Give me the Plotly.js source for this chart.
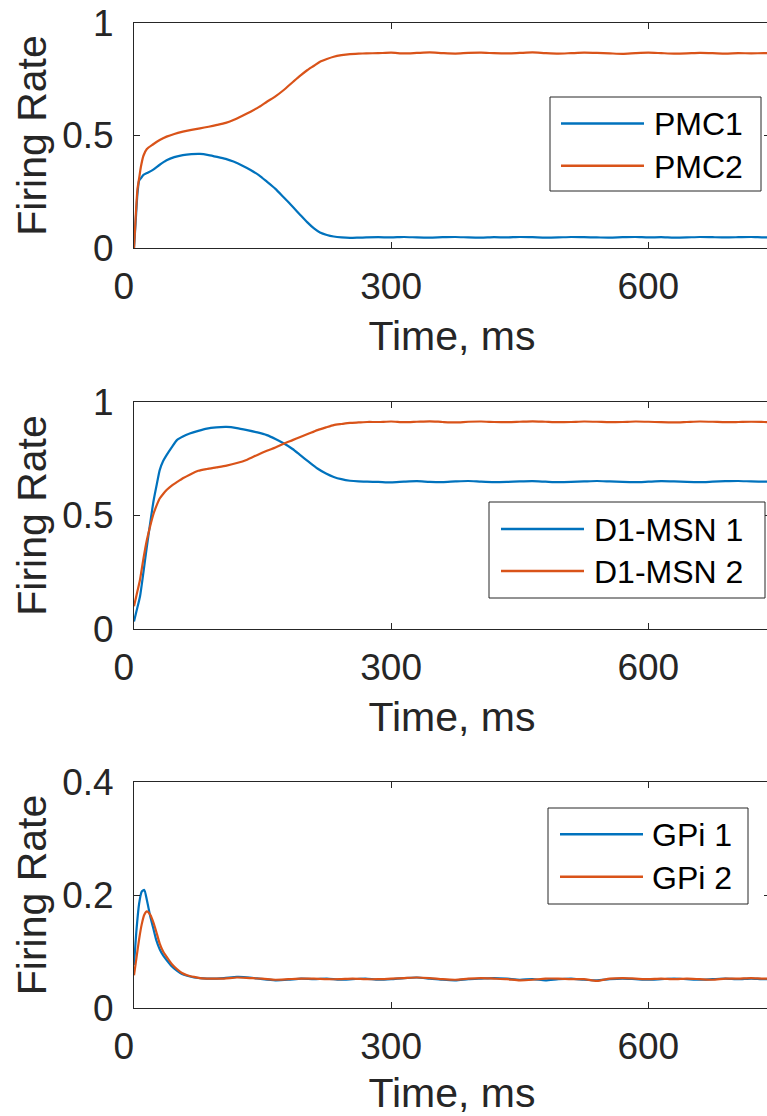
<!DOCTYPE html>
<html>
<head>
<meta charset="utf-8">
<script src="https://cdn.plot.ly/plotly-3.0.1.min.js"></script>
<style>
html, body { margin:0; padding:0; overflow:hidden; background:#fff; }
#chart { width:800px; height:1116px; }
</style>
</head>
<body>
<div id="chart"></div>
<script>
// ---------- data ----------
const timePMC = [0,2,4,6,8,11,15,22,30,38,47,57,67,77,87,97,107,116,126,136,146,155,165,174,186,194,202,210,217,225,233,242,252,262,271,
  285,300,315,330,345,360,375,390,405,420,435,450,465,480,495,510,525,540,555,570,585,600,615,630,645,660,675,690,705,720,735,750];
const pmc1 = [0,0.12,0.24,0.30,0.31,0.325,0.333,0.347,0.37,0.39,0.404,0.413,0.417,0.418,0.413,0.405,0.396,0.384,0.367,0.347,0.323,0.295,0.263,0.228,0.18,0.147,0.115,0.087,0.069,0.058,0.051,0.047,0.045,0.046,0.047,
  0.048,0.047,0.049,0.047,0.046,0.048,0.049,0.047,0.046,0.048,0.047,0.049,0.048,0.046,0.047,0.049,0.048,0.047,0.046,0.048,0.049,0.047,0.048,0.046,0.047,0.049,0.048,0.047,0.048,0.049,0.047,0.048];
const pmc2 = [0,0.14,0.26,0.31,0.36,0.41,0.44,0.46,0.48,0.495,0.507,0.517,0.525,0.532,0.539,0.547,0.556,0.569,0.587,0.606,0.627,0.65,0.674,0.70,0.74,0.766,0.79,0.81,0.828,0.84,0.85,0.857,0.862,0.864,0.865,
  0.866,0.868,0.865,0.867,0.869,0.866,0.864,0.867,0.868,0.866,0.865,0.867,0.869,0.866,0.864,0.866,0.868,0.867,0.865,0.863,0.866,0.868,0.866,0.864,0.865,0.867,0.866,0.864,0.866,0.865,0.866,0.865];

const timeMSN = [0,3,7,11,15,19,23,27,30,34,38,44,50,57,65,75,85,96,108,120,132,144,155,165,175,185,194,204,214,224,233,242,252,262,272,
  285,300,315,330,345,360,375,390,405,420,435,450,465,480,495,510,525,540,555,570,585,600,615,630,645,660,675,690,705,720,735,750];
const msn1 = [0.033,0.08,0.143,0.25,0.363,0.47,0.568,0.645,0.70,0.74,0.766,0.80,0.832,0.848,0.861,0.873,0.883,0.888,0.89,0.885,0.876,0.866,0.854,0.837,0.817,0.793,0.766,0.736,0.707,0.685,0.67,0.66,0.653,0.65,0.649,
  0.648,0.646,0.649,0.651,0.648,0.647,0.650,0.652,0.649,0.647,0.648,0.650,0.651,0.649,0.647,0.648,0.650,0.652,0.650,0.648,0.647,0.649,0.651,0.650,0.648,0.647,0.649,0.651,0.652,0.650,0.649,0.650];
const msn2 = [0.1,0.15,0.217,0.31,0.392,0.455,0.51,0.55,0.575,0.595,0.612,0.632,0.647,0.664,0.68,0.697,0.705,0.712,0.72,0.731,0.746,0.767,0.785,0.80,0.817,0.832,0.846,0.861,0.876,0.888,0.898,0.903,0.908,0.91,0.912,
  0.912,0.914,0.911,0.913,0.915,0.912,0.910,0.913,0.914,0.912,0.911,0.913,0.915,0.913,0.911,0.912,0.914,0.913,0.911,0.912,0.914,0.913,0.911,0.910,0.912,0.914,0.913,0.911,0.912,0.913,0.912,0.911];

const timeGPi = [0,3,6,9,12,15,19,23,26,30,34,38,44,50,56,62,70,77,
  90,105,120,135,150,165,180,195,210,225,240,255,270,285,300,315,330,345,360,375,390,405,420,435,450,465,480,495,510,525,540,555,570,585,600,615,630,645,660,675,690,705,720,735,750];
const gpi1 = [0.076,0.14,0.185,0.206,0.209,0.191,0.162,0.138,0.12,0.104,0.093,0.085,0.074,0.066,0.06,0.057,0.054,0.053,
  0.052,0.053,0.055,0.054,0.051,0.049,0.050,0.052,0.051,0.052,0.050,0.051,0.052,0.050,0.051,0.053,0.054,0.052,0.050,0.049,0.051,0.052,0.053,0.052,0.050,0.051,0.049,0.051,0.052,0.050,0.049,0.051,0.052,0.051,0.050,0.051,0.052,0.051,0.050,0.051,0.052,0.051,0.052,0.051,0.052];
const gpi2 = [0.058,0.09,0.122,0.148,0.165,0.171,0.165,0.15,0.135,0.114,0.1,0.091,0.078,0.069,0.062,0.058,0.055,0.053,
  0.052,0.052,0.054,0.053,0.052,0.050,0.051,0.052,0.052,0.051,0.051,0.052,0.051,0.051,0.052,0.053,0.054,0.053,0.051,0.050,0.052,0.053,0.052,0.051,0.049,0.050,0.052,0.052,0.051,0.051,0.048,0.052,0.053,0.052,0.051,0.052,0.051,0.052,0.051,0.050,0.052,0.052,0.053,0.052,0.053];

const xTicks = [0, 300, 600];
const xTickText = ['0\u00a0\u00a0', '300', '600'];
const yTicksTop = [0, 0.5, 1];
const yTicksGPi = [0, 0.2, 0.4];
const legendPMC = ['PMC1', 'PMC2'];
const legendMSN = ['D1-MSN 1', 'D1-MSN 2'];
const legendGPi = ['GPi 1', 'GPi 2'];

// ---------- style ----------
const BLUE = '#0072BD', ORANGE = '#D95319', AX = '#262626';
const FONT = 'Liberation Sans, Arial, Helvetica, sans-serif';
const W = 800, H = 1116, ML = 134, MR = 30, MT = 23, MB = 108;
const PW = W - ML - MR, PH = H - MT - MB;
const px = v => (v - ML) / PW;
const py = v => (H - MB - v) / PH;

function line(x, y, color, xa, ya) {
  return {x, y, type:'scatter', mode:'lines', line:{color, width:2.2, shape:'spline', smoothing:0.6},
    xaxis:xa, yaxis:ya, showlegend:false, hoverinfo:'skip'};
}
const data = [
  line(timePMC, pmc1, BLUE, 'x', 'y'),
  line(timePMC, pmc2, ORANGE, 'x', 'y'),
  line(timeMSN, msn1, BLUE, 'x2', 'y2'),
  line(timeMSN, msn2, ORANGE, 'x2', 'y2'),
  line(timeGPi, gpi1, BLUE, 'x3', 'y3'),
  line(timeGPi, gpi2, ORANGE, 'x3', 'y3')
];

function xax(anchor) {
  return {anchor, range:[0, 742], tickvals:xTicks, ticktext:xTickText, ticks:'inside', ticklen:6, tickcolor:AX,
    showline:true, linecolor:AX, linewidth:1, mirror:'ticks', showgrid:false, zeroline:false,
    tickfont:{family:FONT, size:37, color:AX}, ticklabelstandoff:6,
    title:{text:'Time, ms', font:{family:FONT, size:41, color:AX}, standoff:14}};
}
function yax(anchor, domain, range, ticks) {
  return {anchor, domain, range, tickvals:ticks, ticks:'inside', ticklen:6, tickcolor:AX,
    showline:true, linecolor:AX, linewidth:1, mirror:'ticks', showgrid:false, zeroline:false,
    tickfont:{family:FONT, size:37, color:AX}, ticklabelstandoff:12,
    title:{text:'Firing Rate', font:{family:FONT, size:41, color:AX}, standoff:2}};
}

const shapes = [], annotations = [];
function legend(box, lineX, lineY, textX, labels) {
  shapes.push({type:'rect', xref:'paper', yref:'paper', x0:px(box[0]), x1:px(box[2]), y0:py(box[1]), y1:py(box[3]),
    line:{color:AX, width:1}, fillcolor:'white', layer:'above'});
  [BLUE, ORANGE].forEach((c, i) => {
    shapes.push({type:'line', xref:'paper', yref:'paper', x0:px(lineX[0]), x1:px(lineX[1]), y0:py(lineY[i]), y1:py(lineY[i]),
      line:{color:c, width:2.5}, layer:'above'});
    annotations.push({xref:'paper', yref:'paper', x:px(textX), y:py(lineY[i] + 1), xanchor:'left', yanchor:'middle',
      text:labels[i], showarrow:false, font:{family:FONT, size:32, color:'#000'}});
  });
}
legend([550, 97, 761, 191], [561, 644], [123.5, 165.7], 652, legendPMC);
legend([489, 502, 765, 598], [501, 584], [529, 571], 592, legendMSN);
legend([548, 808, 748, 904], [560, 643], [834.3, 876.7], 650, legendGPi);

const layout = {
  width:W, height:H, margin:{l:ML, r:MR, t:MT, b:MB},
  paper_bgcolor:'#fff', plot_bgcolor:'#fff', showlegend:false,
  font:{family:FONT, color:AX},
  xaxis:xax('y'), yaxis:yax('x', [py(248), 1], [0, 1], yTicksTop),
  xaxis2:xax('y2'), yaxis2:yax('x2', [py(629), py(402)], [0, 1], yTicksTop),
  xaxis3:xax('y3'), yaxis3:yax('x3', [0, py(782)], [0, 0.4], yTicksGPi),
  shapes, annotations
};
Plotly.newPlot('chart', data, layout, {staticPlot:true, displayModeBar:false});
</script>
</body>
</html>
